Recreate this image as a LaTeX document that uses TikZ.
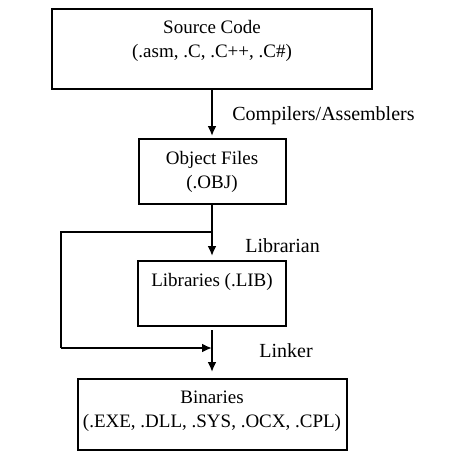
\documentclass[tikz,border=0pt]{standalone}
\usepackage{fontspec}
\setmainfont{Liberation Serif}
\usetikzlibrary{arrows.meta}
\tikzset{
  box/.style={draw,line width=1pt,inner sep=0pt},
  txt/.style={align=center,inner sep=0pt,font=\fontsize{9.5}{12}\selectfont},
  lbl/.style={inner sep=0pt,anchor=west,font=\fontsize{10}{12}\selectfont},
  arr/.style={line width=1pt,-{Latex[length=5pt,width=4.5pt]}},
}
\begin{document}
\begin{tikzpicture}[x=0.5pt,y=-0.5pt]
\useasboundingbox (0,0) rectangle (460,456);
%\draw[gray,very thin] (0,0) grid[step=20] (460,456);
\node[box,minimum width=160pt,minimum height=40pt] (src) at (212,49) {};
\node[txt] (srctext) at (212,41) {Source Code\\(.asm, .C, .C++, .C\#)};
\node[box,minimum width=73.5pt,minimum height=32.5pt] (obj) at (212,171.5) {};
\node[txt] (objtext) at (212,171.5) {Object Files\\(.OBJ)};
\node[box,minimum width=74pt,minimum height=32.5pt] (lib) at (212,293.5) {};
\node[txt] (libtext) at (212,282) {Libraries (.LIB)};
\node[box,minimum width=134.5pt,minimum height=35.5pt] (bin) at (212,414.5) {};
\node[txt] (bintext) at (212,411.5) {Binaries\\(.EXE, .DLL, .SYS, .OCX, .CPL)};
\node[lbl] (compile) at (232,116) {Compilers/Assemblers};
\node[lbl] (librarian) at (245,246) {Librarian};
\node[lbl] (linker) at (259,351) {Linker};
\coordinate (split) at (212,232);
\coordinate (leftup) at (61,232);
\coordinate (leftdown) at (61,348);
\coordinate (join) at (212,348);
\draw[arr,shorten >=1pt] (src) -- (obj);
\draw[arr,shorten >=2pt] (obj) -- (lib);
\draw[line width=1pt] (split) -- (leftup) -- (leftdown);
\draw[arr] (leftdown) -- (join);
\draw[arr,shorten <=1.5pt,shorten >=3pt] (lib) -- (bin);
\end{tikzpicture}
\end{document}
